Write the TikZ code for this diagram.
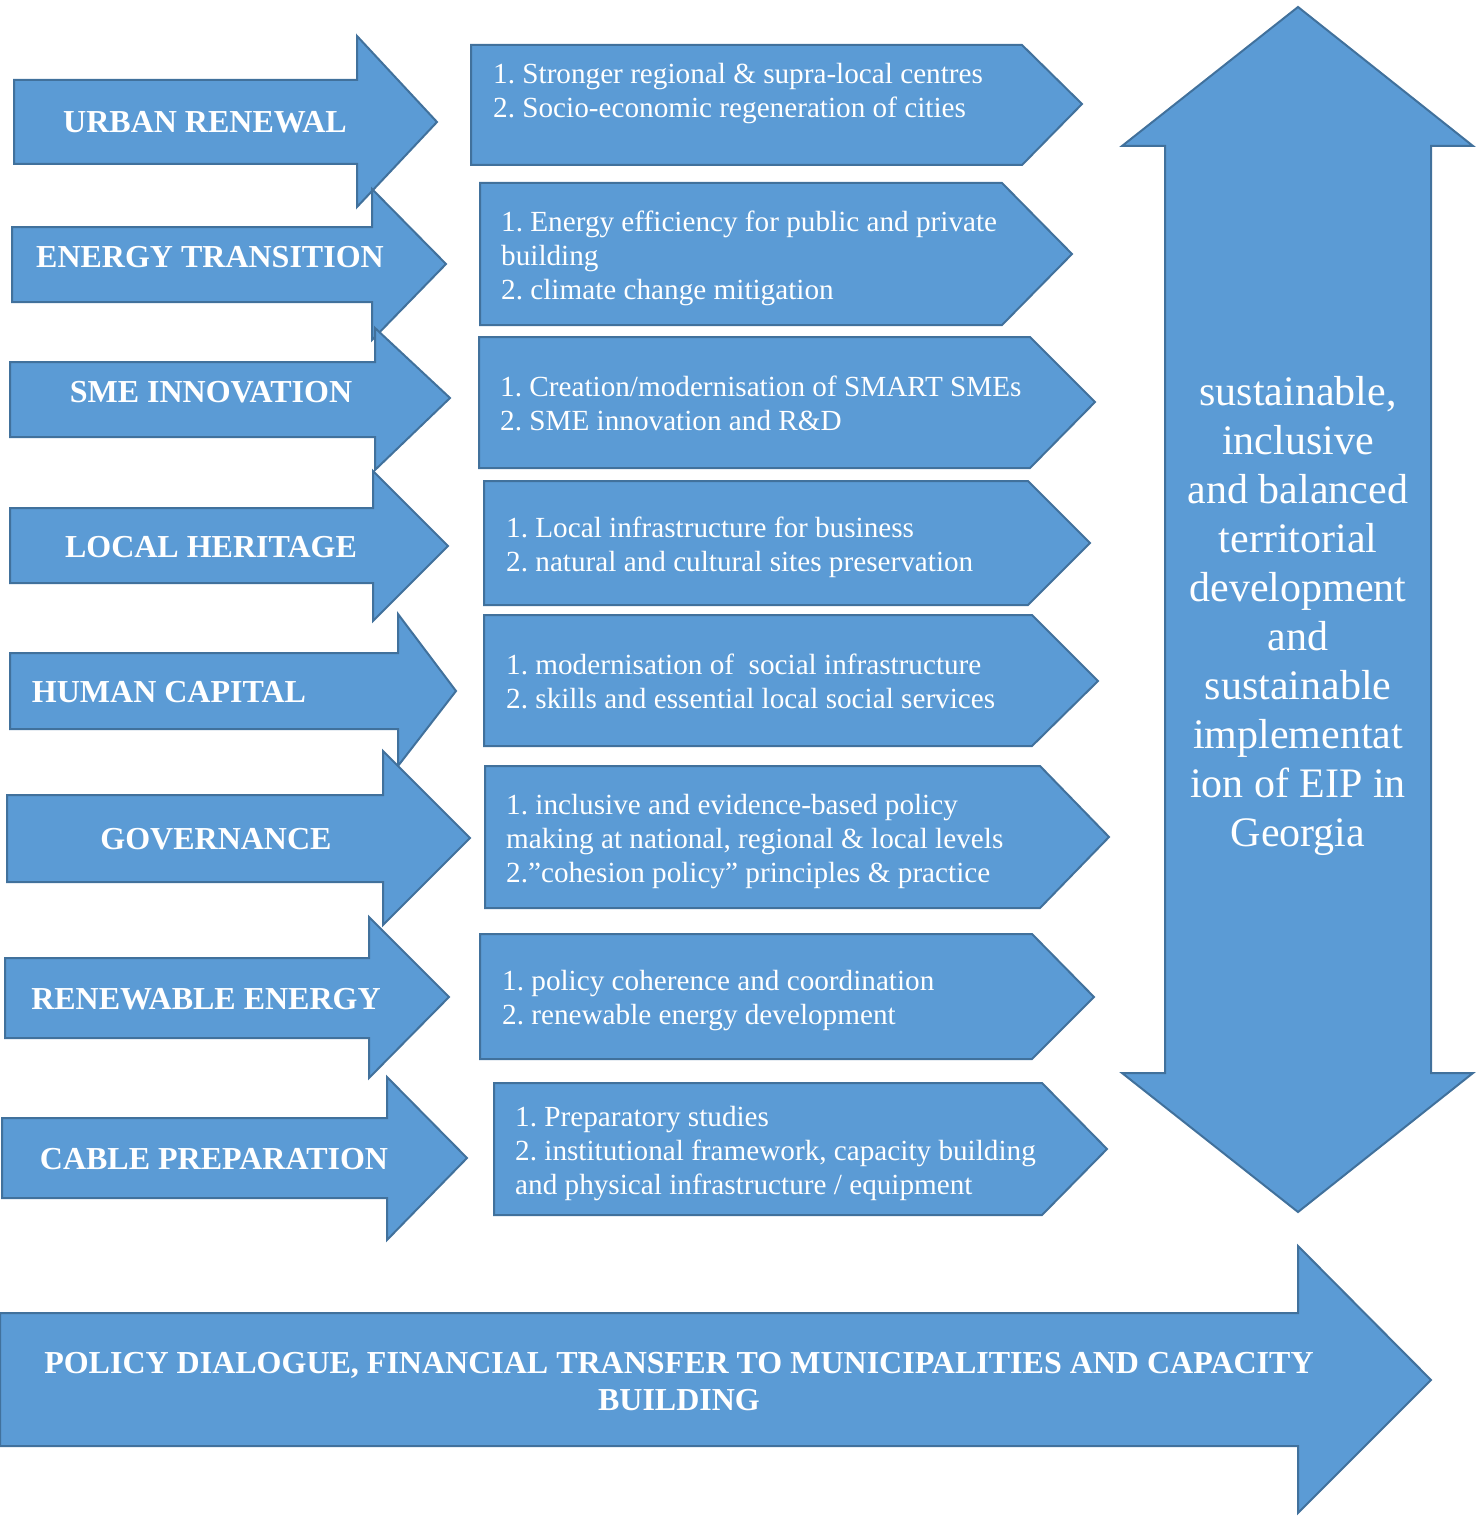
\documentclass[tikz,border=0pt]{standalone}
\usepackage{fontspec}
\setmainfont{Liberation Serif}
\frenchspacing
\definecolor{fillblue}{HTML}{5B9BD5}
\definecolor{edgeblue}{HTML}{41719C}
\begin{document}
\begin{tikzpicture}[x=1pt,y=-1pt,
  blueshape/.style={fill=fillblue,draw=edgeblue,line width=2pt,line join=miter},
  lbl/.style={text=white,inner sep=0,font=\fontsize{32}{37}\selectfont\bfseries},
  item/.style={text=white,inner sep=0,align=left,anchor=base west,font=\fontsize{29.2}{34}\selectfont},
  goal/.style={text=white,inner sep=0,align=center,font=\fontsize{42}{49}\selectfont}]
\useasboundingbox (0,0) rectangle (1479,1517);

% left arrows
\draw[blueshape] (14,80) -- (357,80) -- (357,36) -- (437,122) -- (357,207) -- (357,164) -- (14,164) -- cycle;
\draw[blueshape] (12,227) -- (372,227) -- (372,189) -- (446,264) -- (372,340) -- (372,302) -- (12,302) -- cycle;
\draw[blueshape] (10,362) -- (375,362) -- (375,328) -- (450,398) -- (375,470) -- (375,437) -- (10,437) -- cycle;
\draw[blueshape] (10,508) -- (373,508) -- (373,471) -- (448,546) -- (373,621) -- (373,583) -- (10,583) -- cycle;
\draw[blueshape] (10,653) -- (398,653) -- (398,614) -- (456,691) -- (398,766) -- (398,729) -- (10,729) -- cycle;
\draw[blueshape] (7,795) -- (383,795) -- (383,751) -- (470,838) -- (383,925) -- (383,882) -- (7,882) -- cycle;
\draw[blueshape] (5,958) -- (369,958) -- (369,917) -- (449,997) -- (369,1078) -- (369,1038) -- (5,1038) -- cycle;
\draw[blueshape] (2,1118) -- (387,1118) -- (387,1077) -- (467,1158) -- (387,1240) -- (387,1198) -- (2,1198) -- cycle;

\node[lbl] (l1) at (205,122) {URBAN RENEWAL};
\node[lbl] (l2) at (210,257) {ENERGY TRANSITION};
\node[lbl] (l3) at (211,392) {SME INNOVATION};
\node[lbl] (l4) at (211,547) {LOCAL HERITAGE};
\node[lbl] (l5) at (169,692) {HUMAN CAPITAL};
\node[lbl] (l6) at (216,839) {GOVERNANCE};
\node[lbl] (l7) at (206,999) {RENEWABLE ENERGY};
\node[lbl] (l8) at (214,1159) {CABLE PREPARATION};

% middle pentagons
\draw[blueshape] (471,45) -- (1022,45) -- (1082,104) -- (1022,165) -- (471,165) -- cycle;
\draw[blueshape] (480,183) -- (1002,183) -- (1072,254) -- (1002,325) -- (480,325) -- cycle;
\draw[blueshape] (479,337) -- (1030,337) -- (1095,402) -- (1030,468) -- (479,468) -- cycle;
\draw[blueshape] (484,481) -- (1028,481) -- (1090,543) -- (1028,605) -- (484,605) -- cycle;
\draw[blueshape] (484,615) -- (1032,615) -- (1098,681) -- (1032,746) -- (484,746) -- cycle;
\draw[blueshape] (485,766) -- (1040,766) -- (1109,837) -- (1040,908) -- (485,908) -- cycle;
\draw[blueshape] (480,934) -- (1032,934) -- (1094,997) -- (1032,1059) -- (480,1059) -- cycle;
\draw[blueshape] (494,1083) -- (1042,1083) -- (1107,1149) -- (1042,1215) -- (494,1215) -- cycle;

% (base anchor = baseline of the last line)
\node[item] (m1) at (493,118) {1. Stronger regional \& supra-local centres\\2. Socio-economic regeneration of cities};
\node[item] (m2) at (501,299) {1. Energy efficiency for public and private\\building\\2. climate change mitigation};
\node[item] (m3) at (500,430) {1. Creation/modernisation of SMART SMEs\\2. SME innovation and R\&D};
\node[item] (m4) at (506,571) {1. Local infrastructure for business\\2. natural and cultural sites preservation};
\node[item] (m5) at (506,708) {1. modernisation of \ social infrastructure\\2. skills and essential local social services};
\node[item] (m6) at (506,882) {1. inclusive and evidence-based policy\\making at national, regional \& local levels\\2.”cohesion policy” principles \& practice};
\node[item] (m7) at (502,1024) {1. policy coherence and coordination\\2. renewable energy development};
\node[item] (m8) at (515,1194) {1. Preparatory studies\\2. institutional framework, capacity building\\and physical infrastructure / equipment};

% right double arrow
\draw[blueshape] (1298,7) -- (1473,146) -- (1431,146) -- (1431,1073) -- (1473,1073) -- (1298,1212) -- (1122,1073) -- (1165,1073) -- (1165,146) -- (1122,146) -- cycle;
\node[goal] (goal) at (1298,616) {sustainable,\\inclusive\\and balanced\\territorial\\development\\and\\sustainable\\implementat\\ion of EIP in\\Georgia};

% bottom arrow
\draw[blueshape] (0,1313) -- (1298,1313) -- (1298,1246) -- (1431,1380) -- (1298,1513) -- (1298,1446) -- (0,1446) -- cycle;
\node[lbl,align=center] (policy) at (679,1382) {POLICY DIALOGUE, FINANCIAL TRANSFER TO MUNICIPALITIES AND CAPACITY\\BUILDING};
\end{tikzpicture}
\end{document}
